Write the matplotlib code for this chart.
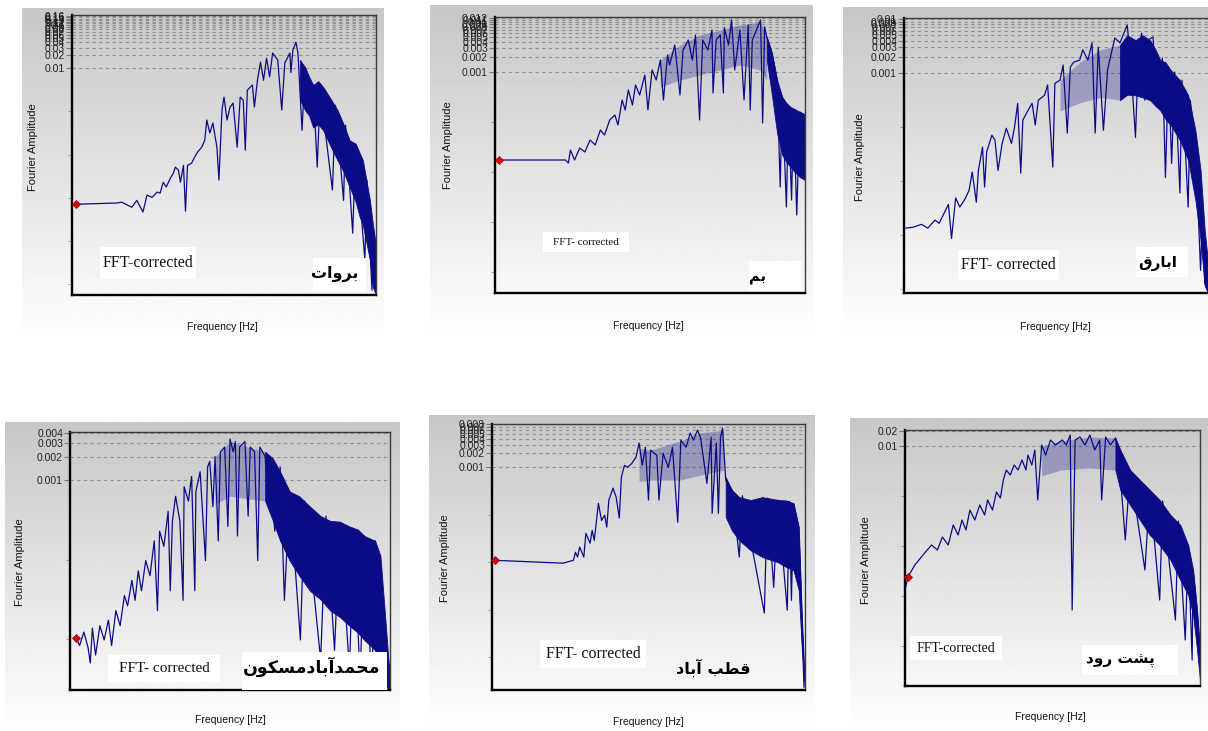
import matplotlib.pyplot as plt
import numpy as np
from matplotlib.patches import Rectangle
from matplotlib.ticker import FixedLocator, NullLocator

FIG_W, FIG_H = 1208, 731
NAVY = "#0b0b86"

# station names as Arabic presentation forms in visual order
# (matplotlib does no Arabic shaping / bidi)
NAMES = [
    "\ufe95\ufe8d\ufeed\ufeae\ufe91",  # بروات
    "\ufee2\ufe91",  # بم
    "\ufed5\ufead\ufe8e\ufe91\ufe8d",  # ابارق
    "\ufee5\ufeee\ufedc\ufeb4\ufee3\ufea9\ufe8e\ufe91\ufe81\ufeaa\ufee4\ufea4\ufee3",  # محمدآبادمسکون
    "\ufea9\ufe8e\ufe91\ufe81 \ufe90\ufec4\ufed7",  # قطب آباد
    "\ufea9\ufeed\ufead \ufe96\ufeb8\ufb58",  # پشت رود
]
FFT_LABELS = ["FFT-corrected", "FFT- corrected", "FFT- corrected",
              "FFT- corrected", "FFT- corrected", "FFT-corrected"]

# y range (log10 of Fourier amplitude) and spacing of the labelled grid lines
YLIM_LOG = [(-7.25, -0.77), (-7.42, -1.90), (-7.07, -1.98),
            (-5.64, -2.39), (-7.69, -2.09), (-6.80, -1.68)]
GRID_STEP = [0.01, 0.001, 0.001, 0.001, 0.001, 0.01]
# index of the point carrying the red marker (None = no marker)
MARKER_AT = [0, 0, None, 0, 0, 1]

# spectra: (log10 frequency [Hz], log10 amplitude)
TRACE_1 = [(-0.96, -5.15), (-0.55, -5.12), (-0.51, -5.10), (-0.41, -5.22), (-0.36, -5.06),
           (-0.30, -5.33), (-0.26, -4.94), (-0.21, -4.99), (-0.16, -4.87), (-0.13, -4.89),
           (-0.10, -4.64), (-0.07, -4.75), (-0.03, -4.55), (0.00, -4.43), (0.02, -4.29),
           (0.05, -4.36), (0.07, -4.64), (0.10, -4.25), (0.12, -5.31), (0.14, -4.25),
           (0.18, -4.20), (0.21, -4.06), (0.24, -3.94), (0.28, -3.83), (0.31, -3.67),
           (0.33, -3.20), (0.36, -3.50), (0.39, -3.27), (0.43, -3.83), (0.45, -4.59),
           (0.48, -2.97), (0.50, -2.67), (0.53, -3.20), (0.56, -2.90), (0.59, -2.81),
           (0.63, -3.83), (0.66, -2.67), (0.69, -2.74), (0.71, -3.90), (0.73, -2.51),
           (0.78, -2.39), (0.80, -2.90), (0.83, -2.28), (0.86, -1.86), (0.89, -2.28),
           (0.92, -1.77), (0.95, -2.20), (0.98, -1.65), (1.03, -1.81), (1.07, -2.97),
           (1.10, -1.88), (1.15, -1.65), (1.16, -2.10), (1.18, -1.58), (1.21, -1.40),
           (1.23, -1.65), (1.27, -3.44), (1.30, -1.98), (1.33, -2.35), (1.38, -2.39),
           (1.42, -4.29), (1.45, -2.51), (1.57, -4.82), (1.60, -2.86), (1.68, -5.06),
           (1.70, -3.32), (1.77, -5.82), (1.80, -3.78), (1.89, -6.44), (1.91, -4.59),
           (1.96, -7.14), (1.98, -5.98)]
TRACE_2 = [(-0.96, -4.76), (-0.32, -4.76), (-0.29, -4.82), (-0.27, -4.56), (-0.23, -4.76),
           (-0.18, -4.52), (-0.13, -4.60), (-0.08, -4.36), (-0.03, -4.46), (0.02, -4.16),
           (0.06, -4.26), (0.11, -3.96), (0.16, -3.86), (0.19, -4.06), (0.23, -3.56),
           (0.26, -3.76), (0.29, -3.36), (0.33, -3.66), (0.36, -3.26), (0.40, -3.46),
           (0.45, -3.06), (0.48, -3.76), (0.52, -2.96), (0.56, -3.16), (0.60, -2.76),
           (0.63, -3.56), (0.67, -2.66), (0.69, -2.86), (0.74, -2.46), (0.79, -3.46),
           (0.82, -2.56), (0.87, -2.36), (0.91, -2.76), (0.94, -2.26), (0.98, -3.96),
           (1.01, -2.36), (1.06, -2.56), (1.10, -2.16), (1.11, -3.42), (1.14, -2.36),
           (1.18, -2.26), (1.21, -3.42), (1.22, -2.12), (1.26, -2.46), (1.29, -1.96),
           (1.32, -2.96), (1.37, -2.16), (1.41, -3.56), (1.45, -2.06), (1.47, -3.76),
           (1.49, -2.36), (1.53, -2.16), (1.57, -1.96), (1.59, -4.02), (1.61, -2.10),
           (1.63, -2.30), (1.68, -2.62), (1.73, -3.16), (1.76, -5.30), (1.78, -3.50),
           (1.82, -5.70), (1.84, -3.70), (1.87, -5.56), (1.89, -3.76), (1.92, -5.86),
           (1.95, -3.80), (2.00, -3.86)]
TRACE_3 = [(-0.98, -5.87), (-0.91, -5.85), (-0.83, -5.80), (-0.77, -5.87), (-0.70, -5.72),
           (-0.66, -5.78), (-0.57, -5.43), (-0.54, -6.06), (-0.50, -5.31), (-0.46, -5.48),
           (-0.41, -5.33), (-0.37, -5.17), (-0.34, -4.83), (-0.30, -5.39), (-0.28, -4.80),
           (-0.24, -4.37), (-0.22, -5.11), (-0.20, -4.46), (-0.15, -4.15), (-0.12, -4.24),
           (-0.09, -4.80), (-0.05, -4.30), (-0.01, -4.02), (0.04, -4.30), (0.07, -4.00),
           (0.10, -3.56), (0.13, -4.85), (0.15, -3.87), (0.20, -3.69), (0.24, -3.56),
           (0.27, -3.96), (0.30, -3.50), (0.36, -3.41), (0.39, -3.22), (0.44, -4.74),
           (0.46, -3.19), (0.51, -3.13), (0.54, -2.85), (0.58, -4.11), (0.61, -2.89),
           (0.64, -2.80), (0.70, -2.76), (0.73, -2.57), (0.78, -2.76), (0.82, -2.44),
           (0.85, -4.11), (0.88, -2.52), (0.93, -4.06), (0.97, -2.94), (1.04, -2.35),
           (1.09, -2.44), (1.16, -2.11), (1.19, -2.70), (1.24, -4.19), (1.27, -2.57),
           (1.30, -2.26), (1.33, -3.50), (1.36, -2.39), (1.41, -2.33), (1.45, -3.63),
           (1.50, -2.72), (1.53, -4.93), (1.56, -2.94), (1.59, -4.67), (1.62, -2.98),
           (1.67, -5.22), (1.69, -3.13), (1.75, -5.48), (1.77, -3.50), (1.82, -4.30),
           (1.87, -6.65), (1.89, -5.50), (1.91, -6.89), (1.94, -7.00)]
TRACE_4 = [(-0.94, -4.99), (-0.91, -5.08), (-0.87, -4.91), (-0.83, -5.11), (-0.81, -5.30),
           (-0.79, -4.86), (-0.76, -5.20), (-0.72, -4.83), (-0.68, -5.01), (-0.64, -4.76),
           (-0.61, -5.08), (-0.57, -4.64), (-0.53, -4.83), (-0.49, -4.45), (-0.46, -4.58),
           (-0.42, -4.26), (-0.39, -4.51), (-0.36, -4.14), (-0.33, -4.39), (-0.29, -4.01),
           (-0.25, -4.20), (-0.21, -3.76), (-0.18, -4.64), (-0.16, -3.64), (-0.12, -3.83),
           (-0.08, -3.39), (-0.06, -4.39), (-0.04, -3.51), (-0.01, -3.20), (0.03, -3.51),
           (0.06, -4.51), (0.07, -3.08), (0.11, -3.26), (0.14, -2.95), (0.17, -4.39),
           (0.18, -3.14), (0.22, -2.89), (0.27, -4.01), (0.29, -2.83), (0.31, -2.76),
           (0.34, -3.33), (0.36, -2.70), (0.39, -3.76), (0.41, -2.64), (0.45, -2.58),
           (0.48, -3.58), (0.50, -2.48), (0.53, -2.64), (0.55, -2.51), (0.57, -3.70),
           (0.59, -2.58), (0.64, -2.51), (0.67, -3.45), (0.69, -2.58), (0.73, -2.64),
           (0.76, -4.01), (0.78, -2.58), (0.83, -2.70), (0.85, -3.20), (0.87, -2.76),
           (0.92, -3.64), (0.97, -2.83), (1.01, -4.51), (1.06, -3.14), (1.16, -5.01),
           (1.20, -3.26), (1.35, -5.26), (1.40, -3.45), (1.48, -5.14), (1.53, -3.55),
           (1.62, -5.39), (1.66, -3.62), (1.72, -5.51), (1.76, -3.70), (1.83, -5.61),
           (1.86, -3.76)]
TRACE_5 = [(-0.97, -4.96), (-0.32, -5.02), (-0.22, -4.96), (-0.20, -4.79), (-0.18, -4.89),
           (-0.16, -4.68), (-0.12, -4.89), (-0.10, -4.39), (-0.06, -4.60), (-0.04, -4.33),
           (-0.02, -4.54), (0.02, -3.76), (0.05, -4.12), (0.08, -4.01), (0.10, -4.26),
           (0.12, -3.69), (0.16, -3.44), (0.19, -3.63), (0.22, -4.07), (0.24, -3.21),
           (0.27, -2.96), (0.30, -3.00), (0.34, -2.92), (0.38, -2.79), (0.41, -2.49),
           (0.44, -2.96), (0.47, -2.58), (0.50, -3.69), (0.52, -2.64), (0.58, -2.75),
           (0.60, -3.69), (0.64, -2.71), (0.69, -3.00), (0.73, -2.58), (0.78, -4.16),
           (0.81, -2.43), (0.86, -2.58), (0.90, -2.28), (0.93, -2.43), (0.97, -2.22),
           (1.00, -2.39), (1.06, -3.34), (1.10, -2.37), (1.11, -3.97), (1.15, -2.49),
           (1.17, -3.97), (1.19, -2.37), (1.21, -2.18), (1.24, -3.27), (1.30, -3.48),
           (1.37, -4.89), (1.40, -3.60), (1.61, -6.07), (1.64, -3.65), (1.70, -5.53),
           (1.74, -3.69), (1.83, -6.01), (1.85, -3.72), (1.87, -5.80), (1.89, -3.76),
           (1.94, -4.26), (1.97, -6.16), (1.99, -7.63)]
TRACE_6 = [(-1.00, -4.88), (-0.97, -4.62), (-0.90, -4.38), (-0.80, -4.14), (-0.73, -3.98),
           (-0.67, -4.08), (-0.62, -3.82), (-0.56, -3.98), (-0.51, -3.58), (-0.46, -3.78),
           (-0.42, -3.48), (-0.38, -3.68), (-0.34, -3.28), (-0.29, -3.48), (-0.24, -3.18),
           (-0.19, -3.38), (-0.16, -3.08), (-0.11, -3.28), (-0.07, -2.92), (-0.03, -3.04),
           (0.00, -2.68), (0.03, -2.48), (0.07, -2.58), (0.11, -2.38), (0.15, -2.48),
           (0.19, -2.28), (0.23, -2.48), (0.25, -2.18), (0.29, -2.38), (0.32, -2.08),
           (0.35, -3.08), (0.39, -1.98), (0.43, -2.18), (0.48, -1.88), (0.53, -1.98),
           (0.60, -1.88), (0.64, -1.98), (0.68, -1.78), (0.70, -5.28), (0.73, -1.88),
           (0.78, -1.82), (0.83, -1.98), (0.88, -1.78), (0.93, -2.08), (0.98, -1.88),
           (1.00, -3.08), (1.04, -1.82), (1.09, -1.98), (1.14, -1.84), (1.17, -2.08),
           (1.24, -3.88), (1.29, -2.48), (1.44, -4.48), (1.49, -2.88), (1.59, -5.08),
           (1.62, -3.10), (1.75, -5.48), (1.78, -3.50), (1.85, -5.88), (1.88, -3.98),
           (1.92, -6.28), (1.93, -4.48), (1.97, -5.28), (2.00, -6.08)]

# solid high-frequency part: (log10 f, log10 top, log10 bottom)
BAND_1 = [(1.25, -1.81, -2.74), (1.30, -1.98, -2.97), (1.34, -2.20, -3.10), (1.38, -2.39, -3.37),
          (1.43, -2.30, -3.30), (1.48, -2.44, -3.44), (1.55, -2.70, -3.80), (1.62, -2.97, -4.13),
          (1.68, -3.30, -4.40), (1.74, -3.67, -4.75), (1.80, -3.75, -5.10), (1.84, -3.97, -5.45),
          (1.87, -4.13, -5.63), (1.94, -5.06, -6.44), (1.97, -5.63, -7.07), (2.00, -6.10, -7.25)]
BAND_2 = [(1.63, -2.30, -2.76), (1.68, -2.62, -3.46), (1.73, -3.16, -4.22), (1.78, -3.50, -4.66),
          (1.82, -3.62, -4.80), (1.86, -3.70, -4.90), (1.90, -3.74, -5.00), (1.95, -3.80, -5.10),
          (2.00, -3.86, -5.16)]
BAND_3 = [(1.09, -2.48, -3.50), (1.16, -2.30, -3.40), (1.24, -2.39, -3.41), (1.31, -2.30, -3.45),
          (1.38, -2.39, -3.50), (1.43, -2.55, -3.60), (1.48, -2.76, -3.69), (1.53, -2.80, -3.85),
          (1.58, -2.94, -3.96), (1.67, -3.13, -4.24), (1.75, -3.41, -4.61), (1.82, -4.06, -5.35),
          (1.87, -4.80, -6.09), (1.91, -5.91, -6.93), (1.94, -6.46, -7.07)]
BAND_4 = [(0.83, -2.64, -3.26), (0.90, -2.72, -3.50), (0.97, -2.89, -3.76), (1.06, -3.14, -4.01),
          (1.15, -3.20, -4.20), (1.25, -3.33, -4.39), (1.35, -3.45, -4.50), (1.44, -3.51, -4.64),
          (1.53, -3.52, -4.72), (1.62, -3.58, -4.83), (1.70, -3.62, -4.92), (1.76, -3.70, -5.01),
          (1.86, -3.76, -5.14), (1.91, -3.95, -5.33), (1.95, -4.64, -5.58), (2.00, -5.51, -5.64)]
BAND_5 = [(1.24, -3.21, -4.05), (1.30, -3.48, -4.33), (1.37, -3.63, -4.54), (1.48, -3.69, -4.75),
          (1.59, -3.63, -4.89), (1.67, -3.66, -4.95), (1.74, -3.69, -5.00), (1.82, -3.70, -5.10),
          (1.89, -3.76, -5.17), (1.94, -4.26, -5.59), (1.97, -6.16, -6.85), (2.00, -7.63, -7.69)]
BAND_6 = [(1.14, -1.84, -2.48), (1.19, -2.08, -2.88), (1.29, -2.48, -3.18), (1.39, -2.68, -3.48),
          (1.49, -2.88, -3.78), (1.59, -3.08, -3.98), (1.70, -3.38, -4.28), (1.80, -3.58, -4.68),
          (1.88, -3.98, -4.98), (1.93, -4.48, -5.38), (1.97, -5.28, -6.08), (2.00, -6.08, -6.68)]

# busy mid-frequency part (many overlapping lines)
MID_1 = []
MID_2 = [(0.60, -2.76, -3.30), (0.79, -2.46, -3.16), (0.98, -2.26, -3.06),
         (1.18, -2.16, -2.96), (1.37, -2.06, -2.86), (1.57, -2.00, -2.96), (1.63, -2.30, -3.16)]
MID_3 = [(0.51, -3.13, -3.70), (0.70, -2.80, -3.55), (0.90, -2.57, -3.45), (1.09, -2.48, -3.50)]
MID_4 = [(0.36, -2.70, -3.30), (0.50, -2.51, -3.20), (0.83, -2.64, -3.26)]
MID_5 = [(0.41, -2.60, -3.30), (0.52, -2.64, -3.27), (0.80, -2.45, -3.27), (0.99, -2.28, -3.17),
         (1.22, -2.22, -3.06)]
MID_6 = [(0.39, -2.00, -2.60), (0.58, -1.90, -2.48), (0.88, -1.82, -2.44), (1.14, -1.84, -2.48)]

TRACES = [TRACE_1, TRACE_2, TRACE_3, TRACE_4, TRACE_5, TRACE_6]
BANDS = [BAND_1, BAND_2, BAND_3, BAND_4, BAND_5, BAND_6]
MIDS = [MID_1, MID_2, MID_3, MID_4, MID_5, MID_6]

# layout in pixels (x0, y0, x1, y1), y measured from the top
BG_PX = [(22, 8, 384, 342), (430, 5, 813, 336), (843, 7, 1215, 336),
         (5, 422, 400, 731), (429, 415, 815, 726), (850, 418, 1212, 731)]
AX_PX = [(72, 15, 376, 295), (495, 17, 805, 293), (904, 18, 1214, 293),
         (70, 432, 390, 690), (492, 424, 805, 690), (905, 430, 1200, 686)]
YLABEL_PX = [(33, 147), (448, 145), (860, 157), (20, 562), (445, 558), (866, 560)]
XLABEL_PX = [(222, 327), (648, 326), (1055, 327), (230, 720), (648, 722), (1050, 717)]
FFT_BOX_PX = [(100, 247, 196, 279), (543, 232, 629, 252), (958, 250, 1059, 280),
              (108, 655, 220, 682), (540, 640, 646, 668), (910, 636, 1002, 660)]
FFT_SIZE = [11.5, 8, 11.5, 11, 11.5, 10]
NAME_BOX_PX = [(313, 258, 366, 291), (749, 261, 801, 291), (1136, 247, 1188, 277),
               (242, 652, 387, 690), None, (1082, 645, 1178, 675)]
NAME_POS_PX = [(335, 274), (758, 277), (1158, 263), (312, 667), (713, 668), (1120, 661)]
NAME_SIZE = [11.5, 10.5, 11, 12.5, 11.5, 11]

SANS = "Liberation Sans"
SERIF = "Liberation Serif"


def fig_rect(x0, y0, x1, y1):
    return [x0 / FIG_W, 1 - y1 / FIG_H, (x1 - x0) / FIG_W, (y1 - y0) / FIG_H]


def fig_xy(x, y):
    return x / FIG_W, 1 - y / FIG_H


fig = plt.figure(figsize=(FIG_W / 100, FIG_H / 100), dpi=100)

for i in range(6):
    bg = fig.add_axes(fig_rect(*BG_PX[i]))
    shade = np.linspace(0.78, 1.0, 256)[:, None]
    bg.imshow(shade, cmap="gray", vmin=0, vmax=1, aspect="auto", extent=[0, 1, 0, 1])
    bg.axis("off")

    ax = fig.add_axes(fig_rect(*AX_PX[i]))
    ax.set_facecolor("none")
    ax.set_xscale("log")
    ax.set_yscale("log")
    lo, hi = YLIM_LOG[i]
    ax.set_xlim(0.1, 100)
    ax.set_ylim(10 ** lo, 10 ** hi)

    step = GRID_STEP[i]
    n = int(10 ** hi / step + 1e-9)
    ticks = [round(step * k, 6) for k in range(1, n + 1)]
    ax.yaxis.set_major_locator(FixedLocator(ticks))
    ax.set_yticklabels(["%g" % t for t in ticks], family=SANS, fontsize=7.5, color="#222222")
    decades = [10.0 ** k for k in range(int(np.floor(lo)) + 1, int(np.log10(step)))]
    ax.yaxis.set_minor_locator(FixedLocator(decades))
    ax.yaxis.set_minor_formatter(plt.NullFormatter())
    ax.xaxis.set_major_locator(NullLocator())
    ax.xaxis.set_minor_locator(NullLocator())
    ax.tick_params(axis="y", which="major", length=4, width=0.8, color="#777777", pad=1)
    ax.tick_params(axis="y", which="minor", length=3, width=0.7, color="#999999")
    ax.grid(axis="y", which="major", ls=(0, (3, 3)), color="#8f8f8f", lw=0.8)
    ax.set_axisbelow(True)

    for side in ("left", "bottom"):
        ax.spines[side].set_linewidth(1.7)
        ax.spines[side].set_color("black")
    for side in ("top", "right"):
        ax.spines[side].set_linewidth(1.0)
        ax.spines[side].set_color("#3a3a3a")

    if MIDS[i]:
        mf, mt, mb = zip(*MIDS[i])
        ax.fill_between(10 ** np.array(mf), 10 ** np.array(mb), 10 ** np.array(mt),
                        color=NAVY, alpha=0.28, lw=0)
    bf, bt, bb = zip(*BANDS[i])
    ax.fill_between(10 ** np.array(bf), 10 ** np.array(bb), 10 ** np.array(bt),
                    color=NAVY, lw=0.6, ec=NAVY)
    tf, ta = zip(*TRACES[i])
    tf = 10 ** np.array(tf)
    ta = 10 ** np.array(ta)
    ax.plot(tf, ta, color=NAVY, lw=0.9)
    k = MARKER_AT[i]
    if k is not None:
        ax.plot(tf[k], ta[k], "D", color="#e00000", ms=3.6, mec="#900000", mew=0.5,
                clip_on=False, zorder=5)

    x, y = fig_xy(*YLABEL_PX[i])
    fig.text(x, y, "Fourier Amplitude", rotation=90, ha="center", va="center",
             family=SANS, fontsize=8, color="#111111")
    x, y = fig_xy(*XLABEL_PX[i])
    fig.text(x, y, "Frequency [Hz]", ha="center", va="center",
             family=SANS, fontsize=7.5, color="#111111")

    bx = FFT_BOX_PX[i]
    fig.add_artist(Rectangle(fig_rect(*bx)[:2], *fig_rect(*bx)[2:], transform=fig.transFigure,
                             fc="white", ec="none", zorder=6))
    x, y = fig_xy((bx[0] + bx[2]) / 2, (bx[1] + bx[3]) / 2)
    fig.text(x, y, FFT_LABELS[i], ha="center", va="center", family=SERIF,
             fontsize=FFT_SIZE[i], color="#111111", zorder=7)

    if NAME_BOX_PX[i] is not None:
        nb = NAME_BOX_PX[i]
        fig.add_artist(Rectangle(fig_rect(*nb)[:2], *fig_rect(*nb)[2:], transform=fig.transFigure,
                                 fc="white", ec="none", zorder=6))
    x, y = fig_xy(*NAME_POS_PX[i])
    fig.text(x, y, NAMES[i], ha="center", va="center", family=["DejaVu Sans"],
             fontweight="bold", fontsize=NAME_SIZE[i], color="black", zorder=7)

fig.savefig("out.png", dpi=100, facecolor="white")
